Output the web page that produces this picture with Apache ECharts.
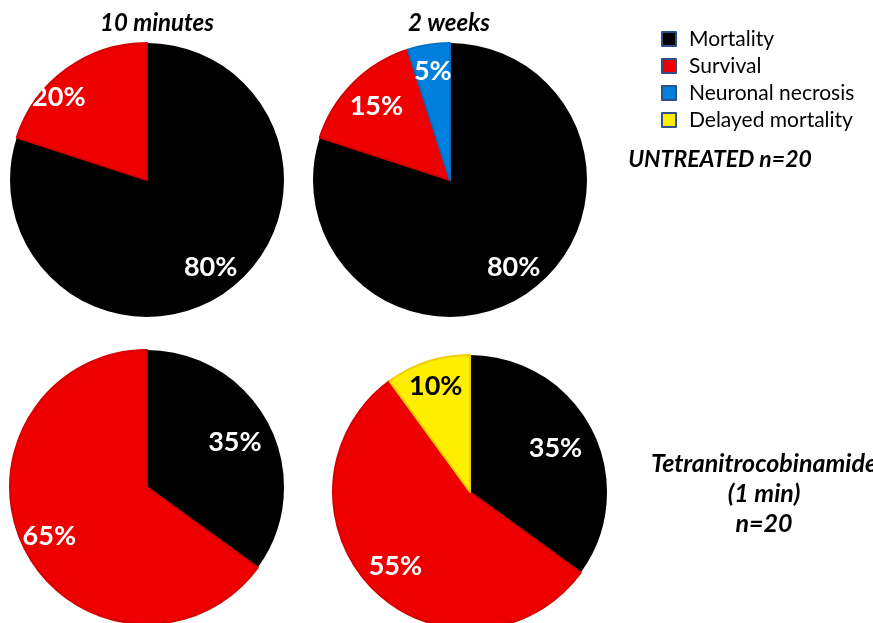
<!DOCTYPE html>
<html>
<head>
<meta charset="utf-8">
<script src="https://cdn.jsdelivr.net/npm/echarts@6/dist/echarts.min.js"></script>
<style>
  html, body { margin: 0; padding: 0; background: #fff; }
  #chart { width: 873px; height: 623px; }
</style>
</head>
<body>
<div id="chart"></div>
<script>
// Outcome categories (legend order)
const categories = ['Mortality', 'Survival', 'Neuronal necrosis', 'Delayed mortality'];

// Percent of animals per outcome, n = 20 per group
const untreated10minNames = ['Mortality', 'Survival'];
const untreated10minValues = [80, 20];
const untreated2wkNames = ['Mortality', 'Survival', 'Neuronal necrosis'];
const untreated2wkValues = [80, 15, 5];
const treated10minNames = ['Mortality', 'Survival'];
const treated10minValues = [35, 65];
const treated2wkNames = ['Mortality', 'Survival', 'Delayed mortality'];
const treated2wkValues = [35, 55, 10];

const columnTitles = ['10 minutes', '2 weeks'];
const rowTitles = ['UNTREATED n=20', 'Tetranitrocobinamide\n(1 min)\nn=20'];

// Colours
const fills = {
  'Mortality': '#000000',
  'Survival': '#EE0000',
  'Neuronal necrosis': '#0080DE',
  'Delayed mortality': '#FFEE00'
};
const edges = {
  'Mortality': '#000000',
  'Survival': '#D60000',
  'Neuronal necrosis': '#0070C4',
  'Delayed mortality': '#F2CC00'
};
const labelInk = {
  'Mortality': '#ffffff',
  'Survival': '#ffffff',
  'Neuronal necrosis': '#ffffff',
  'Delayed mortality': '#000000'
};

// Pie geometry
const R = 137;
const pieCenters = [[147, 180], [450, 180], [147, 487], [470, 492]];
// Where each value label sits: fraction of the radius, and a turn (degrees) off the bisector
const labelRadius = [[0.79, 0.88], [0.79, 0.76, 0.80], [0.72, 0.80], [0.70, 0.77, 0.81]];
const labelTurn = [[0, -11], [0, 0, 0], [0, 0], [0, 0, 0]];

const FONT = 'Lato, "Open Sans", "DejaVu Sans", sans-serif';

function buildData(names, values) {
  return names.map((n, i) => ({
    name: n,
    value: values[i],
    itemStyle: { color: fills[n], borderColor: edges[n], borderWidth: n === 'Mortality' ? 0 : 2 },
    label: { color: labelInk[n] }
  }));
}

const pies = [
  buildData(untreated10minNames, untreated10minValues),
  buildData(untreated2wkNames, untreated2wkValues),
  buildData(treated10minNames, treated10minValues),
  buildData(treated2wkNames, treated2wkValues)
];

const series = pies.map((data, s) => ({
  type: 'pie',
  center: pieCenters[s],
  radius: [0, R],
  startAngle: 90,
  clockwise: true,
  avoidLabelOverlap: false,
  silent: true,
  animation: false,
  data: data,
  label: {
    show: true,
    position: 'inside',
    formatter: '{c}%',
    fontFamily: FONT,
    fontWeight: 'bold',
    fontSize: 27
  },
  labelLine: { show: false },
  labelLayout: function (p) {
    // move the label outward along (a slightly turned) slice bisector
    const c = pieCenters[p.seriesIndex];
    const lr = p.labelRect;
    const lx = lr.x + lr.width / 2;
    const ly = lr.y + lr.height / 2;
    const vx = lx - c[0], vy = ly - c[1];
    const len = Math.sqrt(vx * vx + vy * vy) || 1;
    const a = labelTurn[p.seriesIndex][p.dataIndex] * Math.PI / 180;
    const ux = (vx * Math.cos(a) - vy * Math.sin(a)) / len;
    const uy = (vx * Math.sin(a) + vy * Math.cos(a)) / len;
    const k = labelRadius[p.seriesIndex][p.dataIndex] * R;
    return { dx: c[0] + ux * k - lx, dy: c[1] + uy * k - ly };
  }
}));

const chart = echarts.init(document.getElementById('chart'), null, { renderer: 'canvas' });

const titleFont = 'italic bold 24px ' + FONT;
const rowFont = 'italic bold 23px ' + FONT;
const drugFont = 'italic bold 25px ' + FONT;

chart.setOption({
  backgroundColor: '#ffffff',
  animation: false,
  legend: {
    orient: 'vertical',
    left: 656,
    top: 22,
    itemWidth: 14,
    itemHeight: 14,
    itemGap: 3,
    icon: 'rect',
    selectedMode: false,
    data: categories,
    itemStyle: { borderColor: '#2E4F8A', borderWidth: 2 },
    textStyle: { fontFamily: FONT, fontSize: 21, color: '#000', padding: [0, 0, 0, 8], lineHeight: 24 }
  },
  graphic: [
    { type: 'text', x: 157, y: 23, style: { text: columnTitles[0], font: titleFont, fill: '#000', align: 'center', verticalAlign: 'middle' } },
    { type: 'text', x: 449, y: 23, style: { text: columnTitles[1], font: titleFont, fill: '#000', align: 'center', verticalAlign: 'middle' } },
    { type: 'text', x: 720, y: 160, style: { text: rowTitles[0], font: rowFont, fill: '#000', align: 'center', verticalAlign: 'middle' } },
    { type: 'text', x: 764, y: 494, style: { text: rowTitles[1], font: drugFont, fill: '#000', align: 'center', verticalAlign: 'middle', lineHeight: 30 } }
  ],
  series: series
});
</script>
</body>
</html>
